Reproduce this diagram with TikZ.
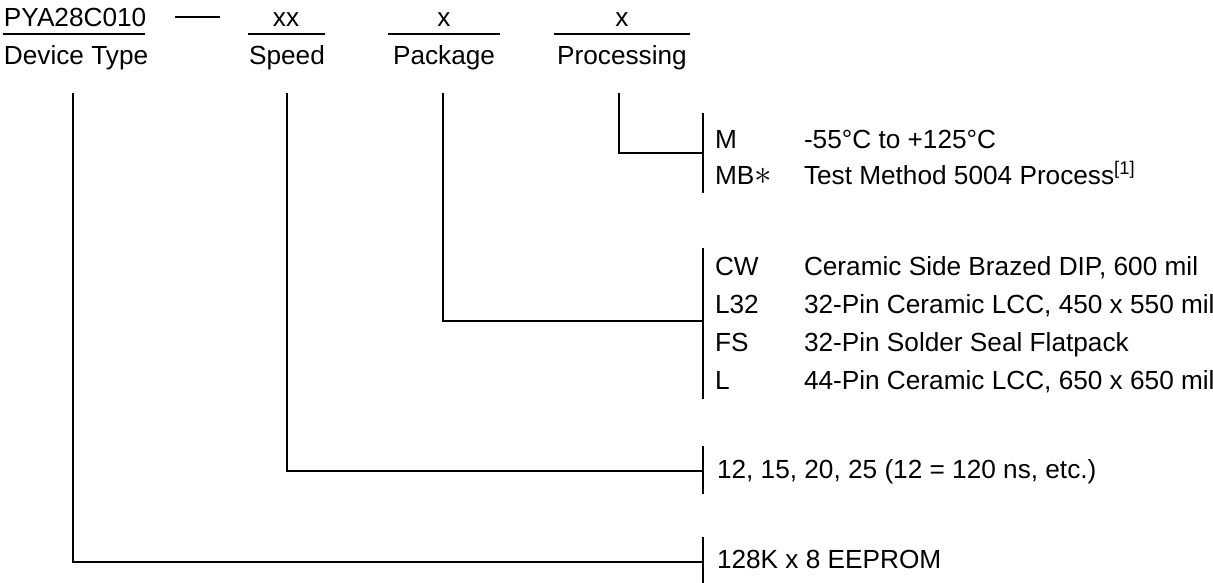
\documentclass[tikz,border=0pt]{standalone}
\usepackage{fontspec}
\setmainfont{Liberation Sans}
\tikzset{
	lbl/.style={anchor=base,inner sep=0pt,font=\fontsize{26.2}{30}\selectfont},
	item/.style={anchor=base west,inner sep=0pt,font=\fontsize{26.2}{30}\selectfont}
}
\begin{document}
\begin{tikzpicture}[x=1pt,y=-1pt,line width=2pt]
	\useasboundingbox (0,0) rectangle (1213,583);
	% Fields
	\node [lbl,anchor=base west] (dev) at (3,27) {PYA28C010};
	\draw (175,17) -- (220,17);
	\node [lbl] (xx) at (286,27) {xx};
	\node [lbl] (xpkg) at (444,27) {x};
	\node [lbl] (xproc) at (622,27) {x};
	\draw (3,34) -- (145,34);
	\draw (248,34) -- (325,34);
	\draw (388,34) -- (500,34);
	\draw (554,34) -- (690,34);
	\node [lbl,anchor=base west] (devtype) at (3,65) {Device Type};
	\node [lbl] (speed) at (287,65) {Speed};
	\node [lbl] (package) at (444,65) {Package};
	\node [lbl] (processing) at (622,65) {Processing};
	% Leads
	\coordinate (devtop) at (73,93);
	\coordinate (spdtop) at (287,93);
	\coordinate (pkgtop) at (443,93);
	\coordinate (proctop) at (619,93);
	\coordinate (procbr) at (703,153);
	\coordinate (pkgbr) at (703,321);
	\coordinate (spdbr) at (703,471);
	\coordinate (devbr) at (703,562);
	\draw (proctop) |- (procbr);
	\draw (pkgtop) |- (pkgbr);
	\draw (spdtop) |- (spdbr);
	\draw (devtop) |- (devbr);
	% Brackets
	\draw (703,113) -- (703,193);
	\draw (703,248) -- (703,399);
	\draw (703,446) -- (703,494);
	\draw (703,537) -- (703,583);
	% Processing
	\node [item] (m) at (714,149) {M};
	\node [item] (mtxt) at (803,149) {-55°C to +125°C};
	\node [item] (mb) at (714,184) {MB\scalebox{1.4}{$\ast$}};
	\node [item] (mbtxt) at (803,184) {Test Method 5004 Process\textsuperscript{[1]}};
	% Package
	\node [item] (cw) at (714,275) {CW};
	\node [item] (cwtxt) at (803,275) {Ceramic Side Brazed DIP, 600 mil};
	\node [item] (l32) at (714,313) {L32};
	\node [item] (l32txt) at (803,313) {32-Pin Ceramic LCC, 450 x 550 mil};
	\node [item] (fs) at (714,351) {FS};
	\node [item] (fstxt) at (803,351) {32-Pin Solder Seal Flatpack};
	\node [item] (l) at (714,389) {L};
	\node [item] (ltxt) at (803,389) {44-Pin Ceramic LCC, 650 x 650 mil};
	% Speed and device
	\node [item] (spdtxt) at (716,478) {12, 15, 20, 25 (12 = 120 ns, etc.)};
	\node [item] (devtxt) at (716,568) {128K x 8 EEPROM};
\end{tikzpicture}
\end{document}
